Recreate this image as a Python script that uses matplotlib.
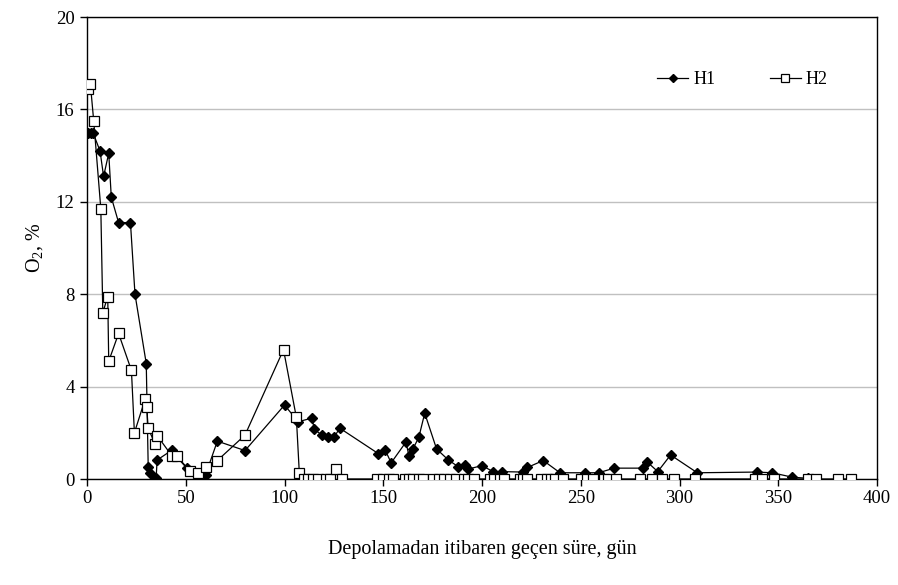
import matplotlib
matplotlib.use("Agg")
import matplotlib.pyplot as plt

# Dane (dni, O2 %)
h1_days = [0.5, 2, 3, 6.6, 8.4, 11, 12.3, 16, 22, 24.3,
           30, 31, 32, 35, 35.5, 43, 45, 50.5, 56, 60,
           66, 80, 100, 107, 114, 115, 119, 122, 125, 128,
           147.5, 151, 154, 161.5, 163, 165, 168, 171, 177, 183,
           188, 191.5, 193, 200, 205.6, 210, 221, 223, 231, 239.5,
           252, 259, 267, 281.5, 283.5, 289, 295.5, 309, 339, 347,
           357, 365]
h1_vals = [15, 15, 15, 14.2, 13.1, 14.1, 12.2, 11.1, 11.1, 8,
           5, 0.5, 0.25, 0.03, 0.82, 1.25, 1.0, 0.47, 0.2, 0.17,
           1.64, 1.23, 3.2, 2.48, 2.64, 2.15, 1.9, 1.8, 1.8, 2.2,
           1.1, 1.25, 0.7, 1.6, 1.0, 1.3, 1.8, 2.85, 1.3, 0.82,
           0.53, 0.6, 0.43, 0.58, 0.32, 0.32, 0.3, 0.5, 0.8, 0.27,
           0.27, 0.27, 0.47, 0.47, 0.75, 0.32, 1.04, 0.27, 0.3, 0.27,
           0.08, 0.03]

h2_days = [0.5, 1.7, 3.4, 7, 8, 10.5, 11, 16, 22.5, 24,
           29.4, 30.2, 31, 34.5, 35.6, 43, 45.5, 52, 56, 60,
           66, 80, 99.5, 106, 107.5, 110, 112, 114.5, 117, 121,
           123, 126, 129, 147, 150, 153, 155, 161, 163, 165,
           168, 170, 175, 178, 181, 184, 187, 191, 193, 196,
           204, 206, 209, 211, 219, 221, 223, 230, 233, 235,
           237, 241, 250, 253, 256, 262, 264, 268, 280, 286,
           291, 297, 308, 338, 342, 348, 365, 369, 380, 387]
h2_vals = [16.9, 17.1, 15.5, 11.7, 7.2, 7.9, 5.1, 6.3, 4.7, 2.0,
           3.45, 3.13, 2.2, 1.5, 1.87, 1.0, 1.0, 0.35, 0.27, 0.5,
           0.8, 1.9, 5.6, 2.67, 0.27, 0, 0, 0, 0, 0,
           0, 0.43, 0] + [0] * 47

x_ticks = [0, 50, 100, 150, 200, 250, 300, 350, 400]
y_ticks = [0, 4, 8, 12, 16, 20]

plt.rcParams["font.family"] = ["Liberation Serif", "DejaVu Serif"]
plt.rcParams["mathtext.default"] = "regular"

fig = plt.figure(figsize=(8.98, 5.85), dpi=100)
ax = fig.add_axes([87 / 898, 1 - 479 / 585, 790 / 898, 462 / 585])

ax.plot(h1_days, h1_vals, color="black", lw=0.9, marker="D", ms=5.5,
        mfc="black", mec="black", label="H1", zorder=3)
ax.plot(h2_days, h2_vals, color="black", lw=0.9, marker="s", ms=7,
        mfc="white", mec="black", mew=0.9, label="H2", zorder=3)

ax.set_xlim(0, 400)
ax.set_ylim(0, 20)
ax.set_xticks(x_ticks)
ax.set_yticks(y_ticks)
ax.yaxis.grid(True, color="#c0c0c0", lw=1)
ax.set_axisbelow(True)
for s in ax.spines.values():
    s.set_color("black")
    s.set_linewidth(1)
ax.tick_params(axis="both", direction="out", length=5, width=1,
               labelsize=13.5, colors="black")
ax.tick_params(axis="x", pad=3)
ax.tick_params(axis="y", pad=4)

ax.set_xlabel("Depolamadan itibaren geçen süre, gün", fontsize=14.5, labelpad=24)
ax.set_ylabel("O$_2$, %", fontsize=14.5, labelpad=8)

ax.legend(loc="center", bbox_to_anchor=(0.83, 0.865), ncol=2, frameon=False,
          fontsize=13, markerscale=0.75, handlelength=1.7, columnspacing=3.0,
          handletextpad=0.3)

fig.savefig("out.png", dpi=100)
